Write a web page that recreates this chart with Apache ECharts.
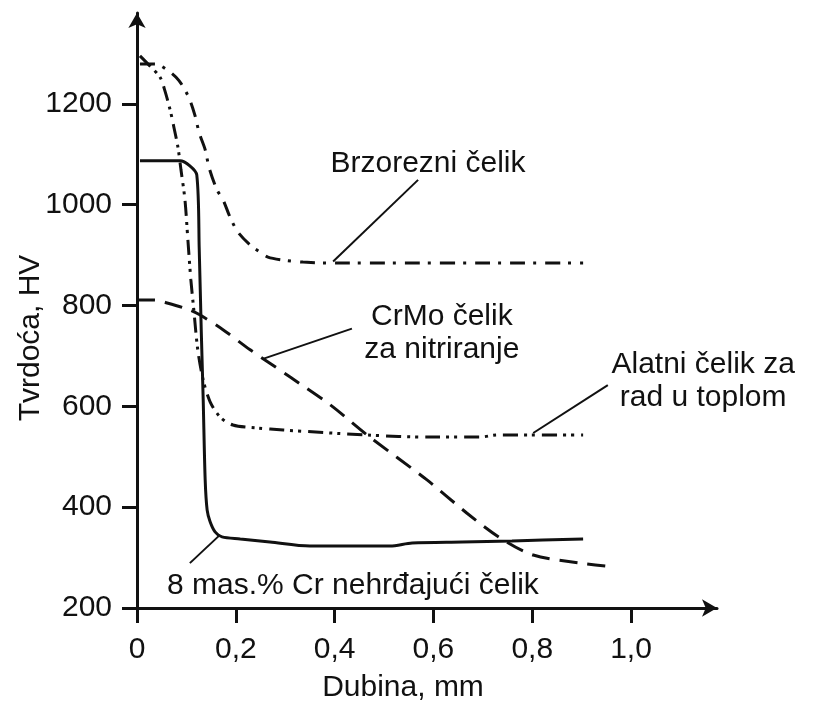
<!DOCTYPE html>
<html>
<head>
	<title>tvrdoca</title>
	<meta charset="utf-8">
	<script src="https://cdn.jsdelivr.net/npm/echarts@6/dist/echarts.min.js"></script>
	<style type="text/css">
	html, body{
		margin: 0;
		padding: 0;
		background: #fff;
	}
	#main{
		width: 813px;
		height: 702px;
	}
	</style>
</head>
<body>
	<div id="main"></div>
	<script type="text/javascript">
	// osi
	var xTicks = [0, 0.2, 0.4, 0.6, 0.8, 1.0];
	var xTickLabels = ['0', '0,2', '0,4', '0,6', '0,8', '1,0'];
	var yTicks = [200, 400, 600, 800, 1000, 1200];
	var xTitle = 'Dubina, mm';
	var yTitle = 'Tvrdoća, HV';

	// krivulje [dubina mm, HV]
	var brzorezni = [[0.006, 1279], [0.036, 1279], [0.061, 1267], [0.085, 1246], [0.105, 1212], [0.117, 1178],
		[0.126, 1142], [0.138, 1109], [0.146, 1073], [0.162, 1029], [0.174, 1010], [0.188, 976], [0.204, 946],
		[0.229, 920], [0.249, 906], [0.265, 896], [0.296, 890], [0.336, 886], [0.405, 884], [0.903, 884]];
	var alatni = [[0.006, 1295], [0.026, 1275], [0.047, 1252], [0.057, 1224], [0.067, 1188], [0.075, 1152],
		[0.083, 1113], [0.089, 1069], [0.097, 1010], [0.103, 930], [0.109, 851], [0.115, 791], [0.123, 712],
		[0.134, 652], [0.148, 609], [0.168, 579], [0.194, 563], [0.243, 557], [0.296, 553], [0.466, 543],
		[0.593, 539], [0.694, 539], [0.729, 543], [0.796, 543], [0.903, 543]];
	var crmo = [[0.0, 811], [0.036, 811], [0.061, 805], [0.107, 791], [0.128, 781], [0.174, 752], [0.229, 712],
		[0.259, 692], [0.310, 658], [0.391, 603], [0.466, 543], [0.587, 454], [0.668, 388], [0.735, 339],
		[0.802, 305], [0.897, 289], [0.968, 281]];
	var nehrdjajuci = [[0.006, 1087], [0.087, 1087], [0.107, 1077], [0.121, 1059], [0.126, 910], [0.130, 752],
		[0.134, 613], [0.138, 454], [0.142, 394], [0.148, 371], [0.158, 351], [0.172, 341], [0.209, 337],
		[0.269, 331], [0.350, 323], [0.512, 323], [0.557, 329], [0.658, 331], [0.759, 333], [0.903, 337]];

	// natpisi i linije do krivulja
	var noteText = ['Brzorezni čelik', 'CrMo čelik\nza nitriranje', 'Alatni čelik za\nrad u toplom', '8 mas.% Cr nehrđajući čelik'];
	var notePos = [[0.589, 1081], [0.617, 745], [1.146, 649], [0.437, 244]];
	var leaders = [
		[[0.569, 1049], [0.397, 887]],
		[[0.435, 754], [0.255, 694]],
		[[0.953, 642], [0.802, 547]],
		[[0.107, 289], [0.168, 345]]
	];

	var ink = '#111';
	var font = 'Liberation Sans';

	var myChart = echarts.init(document.getElementById('main'));

	var notes = [];
	for (var i = 0; i < noteText.length; i++) {
		notes.push({ name: noteText[i], value: notePos[i] });
	}
	var leaderData = [];
	for (var j = 0; j < leaders.length; j++) {
		leaderData.push({ coords: leaders[j] });
	}

	function curve(name, data, dash) {
		return {
			name: name,
			type: 'line',
			data: data,
			smooth: 0.3,
			showSymbol: false,
			silent: true,
			lineStyle: { color: ink, width: 3, type: dash, cap: 'butt' }
		};
	}

	var option = {
		animation: false,
		backgroundColor: '#fff',
		grid: { left: 137, top: 13, width: 580, height: 595 },
		xAxis: {
			type: 'value',
			min: 0,
			max: 1.174,
			splitLine: { show: false },
			axisLine: { onZero: false, symbol: ['none', 'arrow'], symbolSize: [13, 15], lineStyle: { color: ink, width: 3 } },
			axisTick: { length: 15, lineStyle: { color: ink, width: 3 }, customValues: xTicks },
			axisLabel: {
				margin: 27, fontSize: 30, fontFamily: font, color: ink, customValues: xTicks,
				formatter: function (v) { return xTickLabels[xTicks.indexOf(v)]; }
			}
		},
		yAxis: {
			type: 'value',
			min: 200,
			max: 1380,
			splitLine: { show: false },
			axisLine: { onZero: false, symbol: ['none', 'arrow'], symbolSize: [13, 15], lineStyle: { color: ink, width: 3 } },
			axisTick: { length: 15, lineStyle: { color: ink, width: 3 }, customValues: yTicks },
			axisLabel: {
				margin: 25, fontSize: 30, fontFamily: font, color: ink, customValues: yTicks,
				formatter: function (v) { return String(v); }
			}
		},
		graphic: [
			{ type: 'text', x: 403, y: 688, style: { text: xTitle, fontSize: 30, fontFamily: font, fill: ink, align: 'center', verticalAlign: 'middle' } },
			{ type: 'text', x: 31, y: 338, rotation: Math.PI / 2, style: { text: yTitle, fontSize: 30, fontFamily: font, fill: ink, align: 'center', verticalAlign: 'middle' } }
		],
		series: [
			curve('Brzorezni čelik', brzorezni, [15, 8, 3, 9]),
			curve('Alatni čelik za rad u toplom', alatni, [15, 6, 3, 5, 3, 7]),
			curve('CrMo čelik za nitriranje', crmo, [18, 10]),
			curve('8 mas.% Cr nehrđajući čelik', nehrdjajuci, 'solid'),
			{
				type: 'lines',
				coordinateSystem: 'cartesian2d',
				silent: true,
				data: leaderData,
				lineStyle: { color: ink, width: 2, opacity: 1 }
			},
			{
				type: 'scatter',
				data: notes,
				symbolSize: 0,
				silent: true,
				itemStyle: { opacity: 1 },
				label: {
					show: true,
					position: 'inside',
					formatter: '{b}',
					fontSize: 30,
					lineHeight: 33,
					fontFamily: font,
					color: ink,
					align: 'center'
				}
			}
		]
	};
	myChart.setOption(option);
	</script>
</body>
</html>
